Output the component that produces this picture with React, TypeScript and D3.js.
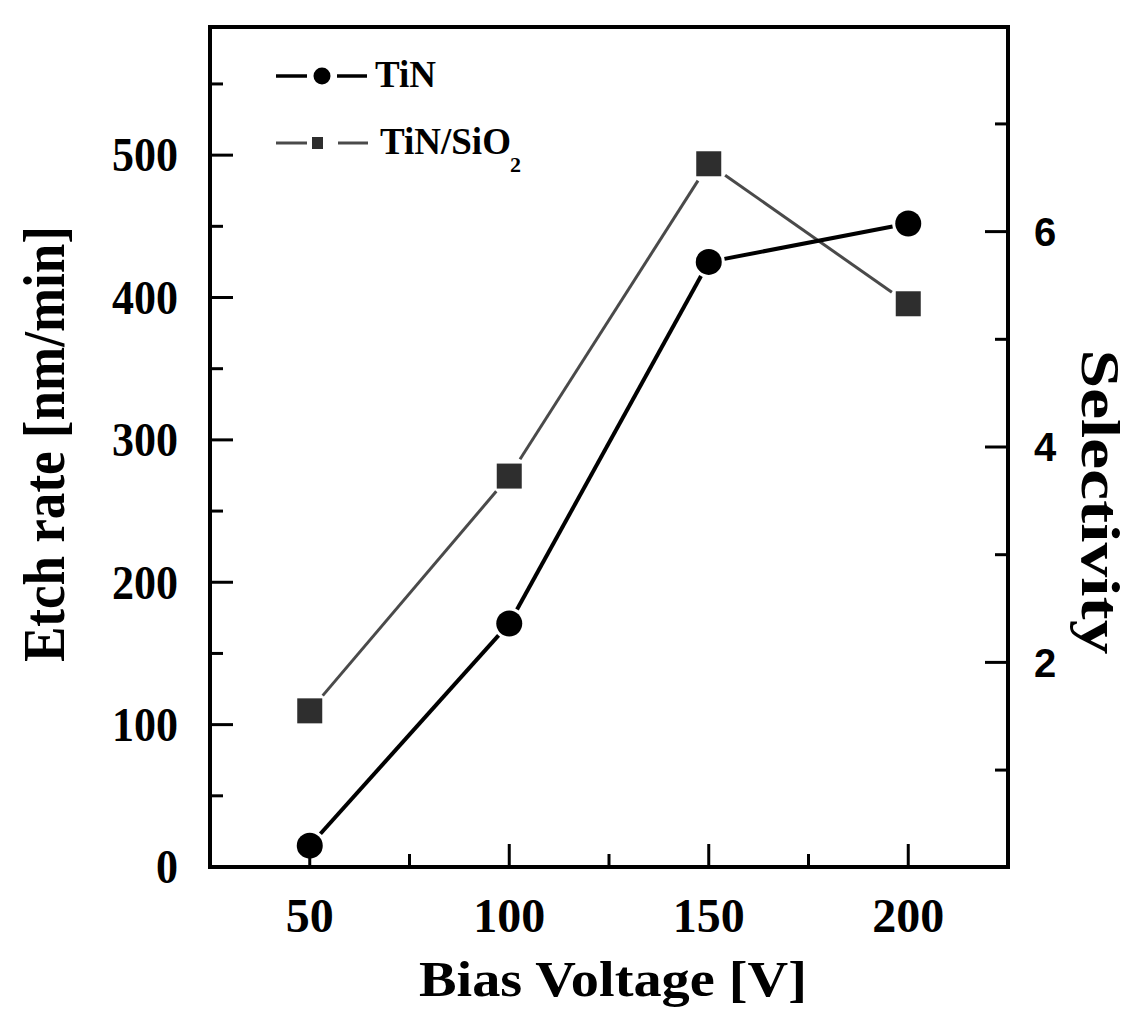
import React from "react";
import * as d3 from "d3";

const voltage = [50, 100, 150, 200];
const tinEtchRate = [15, 171, 425, 452];
const selectivity = [1.55, 3.73, 6.63, 5.33];

const xMajorTicks = [50, 100, 150, 200];
const xMinorTicks = [75, 125, 175];
const yLeftMajor = [0, 100, 200, 300, 400, 500];
const yLeftMinor = [50, 150, 250, 350, 450, 550];
const yRightMajor = [2, 4, 6];
const yRightMinor = [1, 3, 5, 7];

const W = 1134;
const H = 1009;
const L = 210, R = 1008, T = 27, B = 867;

const serif = "'Liberation Serif', 'Times New Roman', serif";
const sans = "'Liberation Sans', Arial, sans-serif";

export default function App() {
  const x = d3.scaleLinear().domain([25, 225]).range([L, R]);
  const yL = d3.scaleLinear().domain([0, 590]).range([B, T]);
  const yR = d3.scaleLinear().domain([0.1, 7.9]).range([B, T]);

  const tinPts = voltage.map((v, i) => [x(v), yL(tinEtchRate[i])] as [number, number]);
  const selPts = voltage.map((v, i) => [x(v), yR(selectivity[i])] as [number, number]);

  const trimmed = (pts: [number, number][], gap: number) => {
    const segs: string[] = [];
    const line = d3.line();
    for (let i = 0; i < pts.length - 1; i++) {
      const [x1, y1] = pts[i];
      const [x2, y2] = pts[i + 1];
      const dx = x2 - x1, dy = y2 - y1;
      const len = Math.hypot(dx, dy);
      const ux = dx / len, uy = dy / len;
      segs.push(
        line([
          [x1 + ux * gap, y1 + uy * gap],
          [x2 - ux * gap, y2 - uy * gap],
        ]) as string
      );
    }
    return segs;
  };

  const major = 23, minor = 13;

  return (
    <svg
      width={W}
      height={H}
      style={{ position: "absolute", left: 0, top: 0, background: "#fff" }}
    >
      <rect x={0} y={0} width={W} height={H} fill="#fff" />

      {/* ticks */}
      <g stroke="#000" strokeWidth={3}>
        {xMajorTicks.map((t) => (
          <line key={"xm" + t} x1={x(t)} x2={x(t)} y1={B} y2={B - major} />
        ))}
        {xMinorTicks.map((t) => (
          <line key={"xn" + t} x1={x(t)} x2={x(t)} y1={B} y2={B - minor} />
        ))}
        {yLeftMajor.map((t) => (
          <line key={"lm" + t} x1={L} x2={L + major} y1={yL(t)} y2={yL(t)} />
        ))}
        {yLeftMinor.map((t) => (
          <line key={"ln" + t} x1={L} x2={L + minor} y1={yL(t)} y2={yL(t)} />
        ))}
        {yRightMajor.map((t) => (
          <line key={"rm" + t} x1={R} x2={R - major} y1={yR(t)} y2={yR(t)} />
        ))}
        {yRightMinor.map((t) => (
          <line key={"rn" + t} x1={R} x2={R - minor} y1={yR(t)} y2={yR(t)} />
        ))}
      </g>

      {/* frame */}
      <rect x={L} y={T} width={R - L} height={B - T} fill="none" stroke="#000" strokeWidth={4} />

      {/* tick labels */}
      <g fontFamily={serif} fontWeight="bold" fontSize={48} fill="#000">
        {xMajorTicks.map((t) => (
          <text key={"xl" + t} x={x(t)} y={932} textAnchor="middle">
            {t}
          </text>
        ))}
        {yLeftMajor.map((t) => (
          <text
            key={"yl" + t}
            x={178}
            y={yL(t)}
            dy="0.34em"
            textAnchor="end"
            textLength={String(t).length * 22}
            lengthAdjust="spacingAndGlyphs"
          >
            {t}
          </text>
        ))}
      </g>
      <g fontFamily={sans} fontWeight="bold" fontSize={40} fill="#000">
        {yRightMajor.map((t) => (
          <text key={"yr" + t} x={1034} y={yR(t)} dy="0.36em" textAnchor="start">
            {t}
          </text>
        ))}
      </g>

      {/* axis titles */}
      <text
        x={(L + R) / 2 + 4}
        y={996}
        textAnchor="middle"
        fontFamily={serif}
        fontWeight="bold"
        fontSize={50}
        textLength={388}
        lengthAdjust="spacingAndGlyphs"
      >
        Bias Voltage [V]
      </text>
      <text
        transform={`translate(64, ${(T + B) / 2 - 3}) rotate(-90)`}
        textAnchor="middle"
        fontFamily={serif}
        fontWeight="bold"
        fontSize={60}
        textLength={436}
        lengthAdjust="spacingAndGlyphs"
      >
        Etch rate [nm/min]
      </text>
      <text
        transform={`translate(1082, 502) rotate(90)`}
        textAnchor="middle"
        fontFamily={serif}
        fontWeight="bold"
        fontSize={54}
        textLength={305}
        lengthAdjust="spacingAndGlyphs"
      >
        Selectivity
      </text>

      {/* series lines */}
      <g fill="none">
        {trimmed(selPts, 20).map((d, i) => (
          <path key={"sl" + i} d={d} stroke="#4a4a4a" strokeWidth={3} />
        ))}
        {trimmed(tinPts, 16).map((d, i) => (
          <path key={"tl" + i} d={d} stroke="#000" strokeWidth={4} />
        ))}
      </g>

      {/* markers */}
      {selPts.map(([px, py], i) => (
        <rect key={"sq" + i} x={px - 12.5} y={py - 12.5} width={25} height={25} fill="#2e2e2e" />
      ))}
      {tinPts.map(([px, py], i) => (
        <circle key={"c" + i} cx={px} cy={py} r={13} fill="#000" />
      ))}

      {/* legend */}
      <g>
        <line x1={276} x2={307} y1={76} y2={76} stroke="#000" strokeWidth={3.5} />
        <circle cx={322} cy={76} r={8.5} fill="#000" />
        <line x1={337} x2={367} y1={76} y2={76} stroke="#000" strokeWidth={3.5} />
        <text x={375} y={87} fontFamily={serif} fontWeight="bold" fontSize={37}>
          TiN
        </text>

        <line x1={276} x2={307} y1={143} y2={143} stroke="#4a4a4a" strokeWidth={3} />
        <rect x={312} y={137} width={11} height={12} fill="#2e2e2e" />
        <line x1={338} x2={368} y1={143} y2={143} stroke="#4a4a4a" strokeWidth={3} />
        <text x={380} y={154} fontFamily={serif} fontWeight="bold" fontSize={37}>
          TiN/SiO
        </text>
        <text x={510} y={172} fontFamily={serif} fontWeight="bold" fontSize={22}>
          2
        </text>
      </g>
    </svg>
  );
}
